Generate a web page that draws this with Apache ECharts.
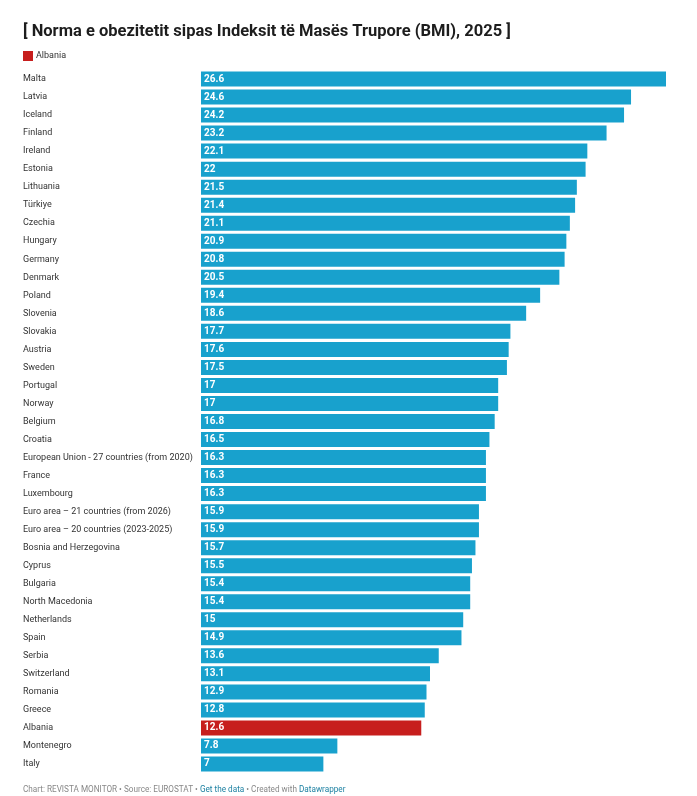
<!DOCTYPE html>
<html>
<head>
<meta charset="UTF-8">
<title>Norma e obezitetit sipas BMI, 2025</title>
<script src="https://cdn.jsdelivr.net/npm/echarts@6/dist/echarts.min.js"></script>
<style type="text/css">
body{
	padding:0;
	margin:0;
	background:#fff;
}
#chart{
	width:697px;
	height:796px;
}
</style>
</head>
<body>
<div id="chart"></div>
<script type="text/javascript">
// vendet, nga lart poshte
var countries = [
  'Malta', 'Latvia', 'Iceland', 'Finland', 'Ireland', 'Estonia', 'Lithuania',
  'Türkiye', 'Czechia', 'Hungary', 'Germany', 'Denmark', 'Poland', 'Slovenia',
  'Slovakia', 'Austria', 'Sweden', 'Portugal', 'Norway', 'Belgium', 'Croatia',
  'European Union - 27 countries (from 2020)', 'France', 'Luxembourg',
  'Euro area – 21 countries (from 2026)', 'Euro area – 20 countries (2023-2025)',
  'Bosnia and Herzegovina', 'Cyprus', 'Bulgaria', 'North Macedonia',
  'Netherlands', 'Spain', 'Serbia', 'Switzerland', 'Romania', 'Greece',
  'Albania', 'Montenegro', 'Italy'
];
var values = [
  26.6, 24.6, 24.2, 23.2, 22.1, 22, 21.5,
  21.4, 21.1, 20.9, 20.8, 20.5, 19.4, 18.6,
  17.7, 17.6, 17.5, 17, 17, 16.8, 16.5,
  16.3, 16.3, 16.3,
  15.9, 15.9,
  15.7, 15.5, 15.4, 15.4,
  15, 14.9, 13.6, 13.1, 12.9, 12.8,
  12.6, 7.8, 7
];
var highlight = 'Albania';

var BLUE = '#18a1cd';
var RED = '#c71e1d';

var myChart = echarts.init(document.getElementById('chart'));

var barData = values.map(function (v, i) {
  return {
    value: v,
    itemStyle: { color: countries[i] === highlight ? RED : BLUE }
  };
});

var option = {
  animation: false,
  textStyle: { fontFamily: 'Roboto' },
  title: {
    text: '[ Norma e obezitetit sipas Indeksit të Masës Trupore (BMI), 2025 ]',
    left: 18,
    top: 18,
    textStyle: {
      fontFamily: 'Roboto',
      fontSize: 16.5,
      fontWeight: 'bold',
      color: '#1d1d1d'
    }
  },
  grid: {
    left: 201,
    top: 70,
    width: 465,
    height: 703,
    containLabel: false
  },
  xAxis: {
    type: 'value',
    min: 0,
    max: 26.6,
    show: false
  },
  yAxis: {
    type: 'category',
    data: countries,
    inverse: true,
    axisLine: { show: false },
    axisTick: { show: false },
    axisLabel: {
      align: 'left',
      margin: 178,
      fontFamily: 'Roboto',
      fontSize: 9,
      color: '#333'
    }
  },
  series: [
    {
      type: 'bar',
      data: barData,
      barWidth: 15,
      label: {
        show: true,
        position: 'insideLeft',
        distance: 3,
        color: '#fff',
        fontFamily: 'Roboto',
        fontWeight: 'bold',
        fontSize: 10
      }
    }
  ],
  graphic: [
    {
      type: 'rect',
      left: 23,
      top: 51,
      shape: { width: 10, height: 10 },
      style: { fill: RED }
    },
    {
      type: 'text',
      left: 36,
      top: 51.5,
      style: {
        text: 'Albania',
        fontFamily: 'Roboto',
        fontSize: 9,
        fill: '#333'
      }
    },
    {
      type: 'text',
      left: 23,
      top: 786,
      style: {
        text: '{g|Chart: REVISTA MONITOR • Source: EUROSTAT • }{b|Get the data}{g| • Created with }{b|Datawrapper}',
        rich: {
          g: { fontFamily: 'Roboto', fontSize: 8.2, fill: '#888' },
          b: { fontFamily: 'Roboto', fontSize: 8.2, fill: '#1d81a2' }
        }
      }
    }
  ]
};

myChart.setOption(option);
</script>
</body>
</html>
